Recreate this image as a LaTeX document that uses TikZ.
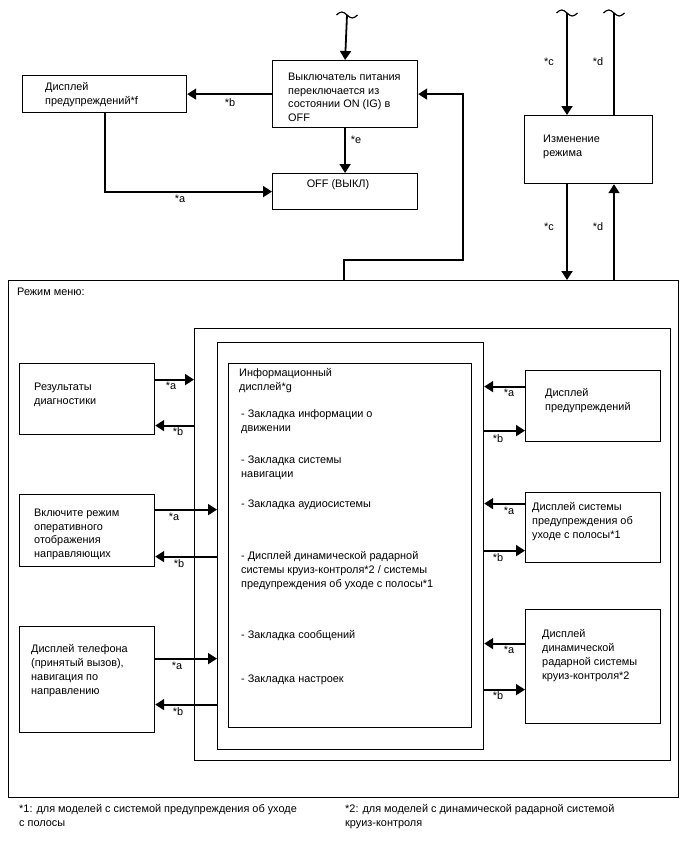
\documentclass[tikz,border=0pt]{standalone}
\usepackage{fontspec}
\setmainfont{Liberation Sans}
\usetikzlibrary{arrows.meta}
\begin{document}
\begin{tikzpicture}[x=1pt,y=-1pt,
  box/.style={draw, line width=1.2pt, inner sep=0pt, anchor=north west},
  txt/.style={inner sep=0pt, anchor=north west, align=left, font=\fontsize{10.9}{13.8}\selectfont},
  lbl/.style={inner sep=0pt, font=\fontsize{10.9}{13}\selectfont},
  arr/.style={line width=1.8pt, -{Triangle[length=9pt,width=11pt]}},
  ln/.style={line width=1.8pt},
  tld/.style={line width=1.2pt}]
\useasboundingbox (0,0) rectangle (688,852);

% ---------- top boxes ----------
\node[box, minimum width=145pt, minimum height=67pt] (pw) at (272,60) {};
\node[box, minimum width=164pt, minimum height=37pt] (wf) at (22,75) {};
\node[box, minimum width=145pt, minimum height=36pt] (off) at (272,173) {};
\node[box, minimum width=128pt, minimum height=68pt] (mode) at (524,115) {};

\node[txt] (pwt) at (288,72.5) {Выключатель питания\\переключается из\\состоянии ON (IG) в\\OFF};
\node[txt] (wft) at (45,82.5) {Дисплей\\предупреждений*f};
\node[txt, anchor=north] (offt) at (338,179.5) {OFF (ВЫКЛ)};
\node[txt] (modet) at (543,134.5) {Изменение\\режима};

% ---------- menu and nested boxes ----------
\node[box, minimum width=670pt, minimum height=517pt] (menu) at (8,280) {};
\node[txt] (menut) at (17,287.5) {Режим меню:};
\node[box, minimum width=476pt, minimum height=432pt] (b1) at (194,328) {};
\node[box, minimum width=266pt, minimum height=407pt] (b2) at (217,342) {};
\node[box, minimum width=243pt, minimum height=364pt] (info) at (228,363) {};

\node[txt] (infot) at (239,368.5) {Информационный\\дисплей*g};
\node[txt] (i1) at (241,409.5) {- Закладка информации о\\движении};
\node[txt] (i2) at (241,455.5) {- Закладка системы\\навигации};
\node[txt] (i3) at (241,499.5) {- Закладка аудиосистемы};
\node[txt] (i4) at (241,551.5) {- Дисплей динамической радарной\\системы круиз-контроля*2 / системы\\предупреждения об уходе с полосы*1};
\node[txt] (i5) at (241,630.5) {- Закладка сообщений};
\node[txt] (i6) at (241,674.5) {- Закладка настроек};

% left boxes
\node[box, minimum width=135pt, minimum height=71pt] (diag) at (19,363) {};
\node[box, minimum width=135pt, minimum height=72pt] (guide) at (19,494) {};
\node[box, minimum width=135pt, minimum height=106pt] (phone) at (19,626) {};
\node[txt] (diagt) at (34,382.5) {Результаты\\диагностики};
\node[txt] (guidet) at (34,508.5) {Включите режим\\оперативного\\отображения\\направляющих};
\node[txt] (phonet) at (31,644.5) {Дисплей телефона\\(принятый вызов),\\навигация по\\направлению};

% right boxes
\node[box, minimum width=135pt, minimum height=71pt] (rw) at (525,370) {};
\node[box, minimum width=135pt, minimum height=70pt] (lane) at (525,492) {};
\node[box, minimum width=135pt, minimum height=114pt] (acc) at (525,609) {};
\node[txt] (rwt) at (545,388.5) {Дисплей\\предупреждений};
\node[txt] (lanet) at (532,502.5) {Дисплей системы\\предупреждения об\\уходе с полосы*1};
\node[txt] (acct) at (542,629.5) {Дисплей\\динамической\\радарной системы\\круиз-контроля*2};

% footnotes
\node[txt] (fn1) at (19,804.5) {*1: для моделей с системой предупреждения об уходе\\с полосы};
\node[txt] (fn2) at (345,804.5) {*2: для моделей с динамической радарной системой\\круиз-контроля};

% ---------- top connectors ----------
\coordinate (t1) at (347,15);
\coordinate (tc) at (567,13);
\coordinate (td) at (614,13);
\draw[tld] (t1) ++(-10.5,0) sin ++(5.25,-3) cos ++(5.25,3) sin ++(5.25,3) cos ++(5.25,-3);
\draw[tld] (tc) ++(-10.5,0) sin ++(5.25,-3) cos ++(5.25,3) sin ++(5.25,3) cos ++(5.25,-3);
\draw[tld] (td) ++(-10.5,0) sin ++(5.25,-3) cos ++(5.25,3) sin ++(5.25,3) cos ++(5.25,-3);

\draw[arr] (t1) -- (pw.north);
\draw[arr] (pw.west) -- (wf.east);
\node[lbl] at (230,103) {*b};
\draw[arr] (pw.south) -- (off.north);
\node[lbl] at (356,140) {*e};
\draw[arr] (wf.south) |- (off.west);
\node[lbl] at (180,199) {*a};
\coordinate (ret) at (463,260);
\draw[arr] (menu.north) |- (ret) |- (pw.east);

\draw[arr] (tc) -- (tc |- mode.north);
\draw[ln] (td |- mode.north) -- (td);
\node[lbl] at (549,62) {*c};
\node[lbl] at (598,62) {*d};
\draw[arr] (tc |- mode.south) -- (tc |- menu.north);
\draw[arr] (td |- menu.north) -- (td |- mode.south);
\node[lbl] at (549,227) {*c};
\node[lbl] at (598,227) {*d};

% ---------- left connectors ----------
\coordinate (da) at ([yshift=19.5pt]diag.east);
\coordinate (db) at ([yshift=-26.5pt]diag.east);
\draw[arr] (da) -- (da -| b1.west);
\draw[arr] (db -| b1.west) -- (db);
\node[lbl] at (171,386) {*a};
\node[lbl] at (178,432) {*b};

\coordinate (ga) at ([yshift=21pt]guide.east);
\coordinate (gb) at ([yshift=-26pt]guide.east);
\draw[arr] (ga) -- (ga -| b2.west);
\draw[arr] (gb -| b2.west) -- (gb);
\node[lbl] at (174,517) {*a};
\node[lbl] at (179,564) {*b};

\coordinate (pa) at ([yshift=21pt]phone.east);
\coordinate (pb) at ([yshift=-25pt]phone.east);
\draw[arr] (pa) -- (pa -| b2.west);
\draw[arr] (pb -| b2.west) -- (pb);
\node[lbl] at (177,666) {*a};
\node[lbl] at (178,712) {*b};

% ---------- right connectors ----------
\coordinate (ra) at ([yshift=19.5pt]rw.west);
\coordinate (rb) at ([yshift=-24.5pt]rw.west);
\draw[arr] (ra) -- (ra -| b2.east);
\draw[arr] (rb -| b2.east) -- (rb);
\node[lbl] at (509,393) {*a};
\node[lbl] at (498,439) {*b};

\coordinate (la) at ([yshift=24pt]lane.west);
\coordinate (lb) at ([yshift=-23pt]lane.west);
\draw[arr] (la) -- (la -| b2.east);
\draw[arr] (lb -| b2.east) -- (lb);
\node[lbl] at (509,511) {*a};
\node[lbl] at (498,558) {*b};

\coordinate (aa) at ([yshift=23pt]acc.west);
\coordinate (ab) at ([yshift=-23pt]acc.west);
\draw[arr] (aa) -- (aa -| b2.east);
\draw[arr] (ab -| b2.east) -- (ab);
\node[lbl] at (509,650) {*a};
\node[lbl] at (498,696) {*b};
\end{tikzpicture}
\end{document}
